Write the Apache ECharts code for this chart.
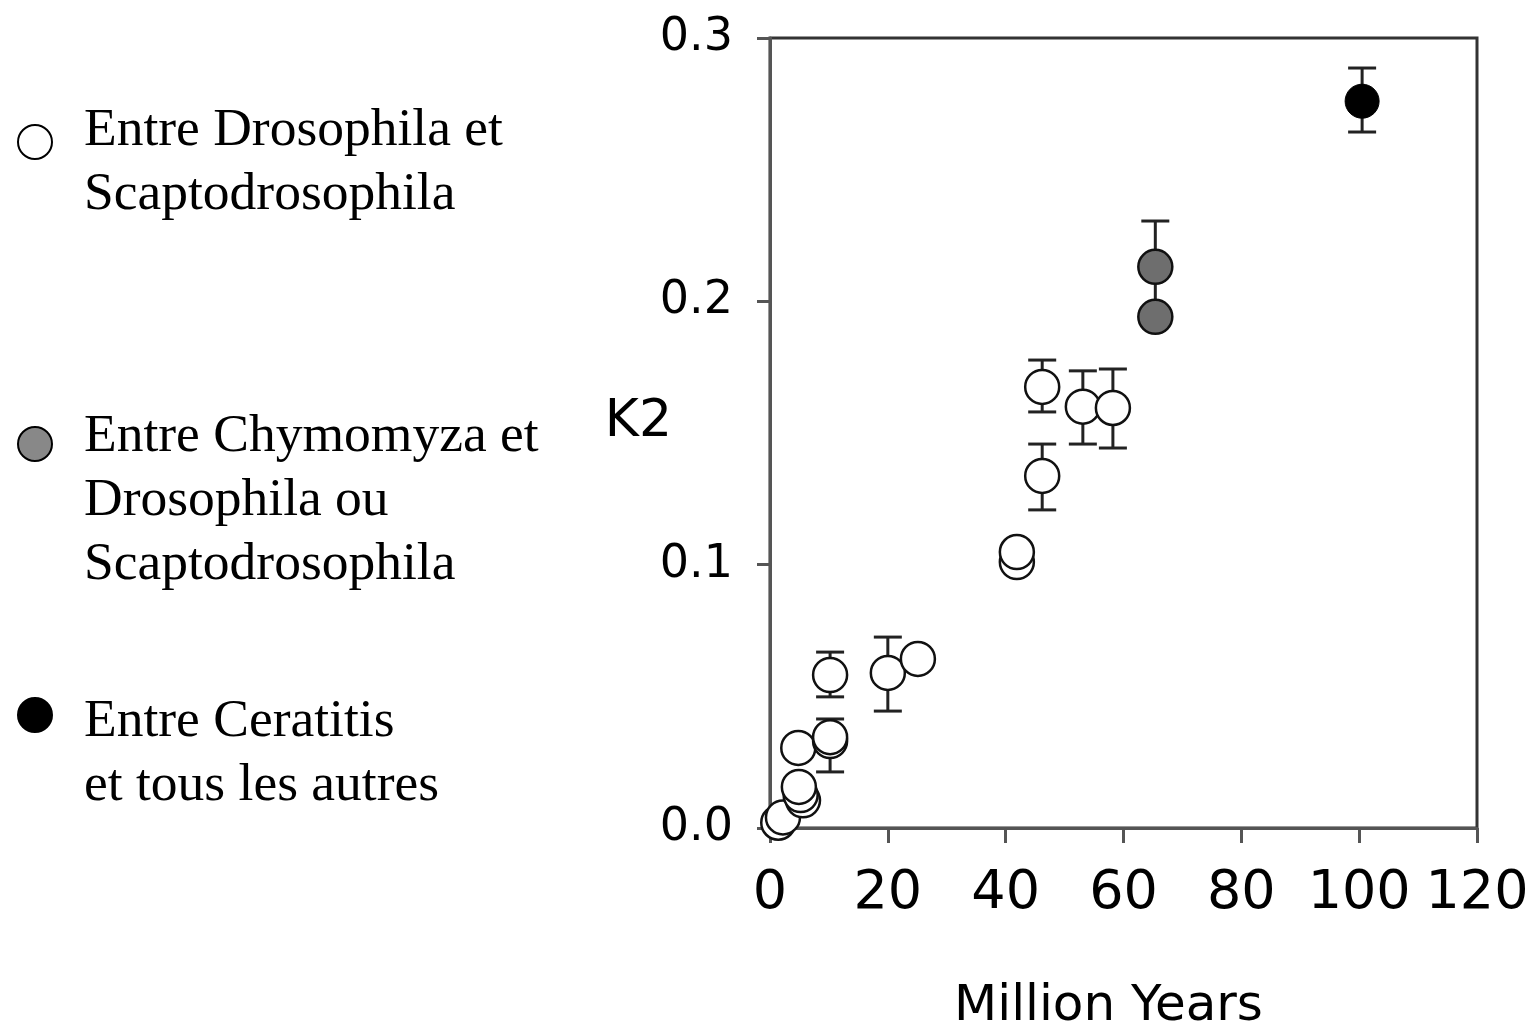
<!DOCTYPE html>
<html>
<head>
<meta charset="utf-8">
<script src="https://cdn.jsdelivr.net/npm/echarts@6/dist/echarts.min.js"></script>
<style>
html, body { margin: 0; padding: 0; background: #fff; }
#main { width: 1528px; height: 1028px; }
</style>
</head>
<body>
<div id="main"></div>
<script>
// legend labels / series names
var seriesNames = [
	'Entre Drosophila et\nScaptodrosophila',
	'Entre Chymomyza et\nDrosophila ou\nScaptodrosophila',
	'Entre Ceratitis\net tous les autres'
];

// open circles : Drosophila / Scaptodrosophila (null = no visible error bar)
var openX    = [1.4,   2.2,   5.6,    5.2,    4.9,    4.8,    10.2,   10.2,   10.2,   20.0,   25.1,   41.9,  41.9,   46.2,   46.2,   53.1,   58.2];
var openY    = [0.002, 0.004, 0.0105, 0.0125, 0.0156, 0.0304, 0.0330, 0.0345, 0.0581, 0.0589, 0.0642, 0.101, 0.1048, 0.1337, 0.1675, 0.160,  0.1595];
var openLow  = [null,  null,  null,   null,   null,   null,   0.0213, null,   0.0498, 0.0444, null,   null,  null,   0.1208, 0.158,  0.1458, 0.1443];
var openHigh = [null,  null,  null,   null,   null,   null,   0.0414, null,   0.0668, 0.0725, null,   null,  null,   0.1458, 0.1777, 0.1736, 0.1743];

// grey circles : Chymomyza vs Drosophila ou Scaptodrosophila
var greyX    = [65.4,   65.4];
var greyY    = [0.2131, 0.1941];
var greyLow  = [0.1941, null];
var greyHigh = [0.2305, null];

// black circle : Ceratitis vs tous les autres
var blackX    = [100.5];
var blackY    = [0.276];
var blackLow  = [0.2643];
var blackHigh = [0.2886];

// axis ticks
var xTicks = [0, 20, 40, 60, 80, 100, 120];
var yTicks = [0.0, 0.1, 0.2, 0.3];

function toPoints(xs, ys) {
	var out = [];
	for (var i = 0; i < xs.length; i++) out.push([xs[i], ys[i]]);
	return out;
}
function toErrors(xs, lo, hi, out) {
	for (var i = 0; i < xs.length; i++) {
		if (lo[i] != null && hi[i] != null) out.push([xs[i], lo[i], hi[i]]);
	}
	return out;
}
var errData = [];
toErrors(openX, openLow, openHigh, errData);
toErrors(greyX, greyLow, greyHigh, errData);
toErrors(blackX, blackLow, blackHigh, errData);

function renderErrorBar(params, api) {
	var x = api.value(0);
	var lo = api.coord([x, api.value(1)]);
	var hi = api.coord([x, api.value(2)]);
	var half = 14;
	var st = { stroke: '#222', lineWidth: 3 };
	return {
		type: 'group',
		children: [
			{ type: 'line', shape: { x1: hi[0], y1: hi[1], x2: lo[0], y2: lo[1] }, style: st },
			{ type: 'line', shape: { x1: hi[0] - half, y1: hi[1], x2: hi[0] + half, y2: hi[1] }, style: st },
			{ type: 'line', shape: { x1: lo[0] - half, y1: lo[1], x2: lo[0] + half, y2: lo[1] }, style: st }
		]
	};
}

// legend boxes: a blank first line pushes the first text line next to the icon
var legendTops = [74, 344, 647];
var legendSpacer = [42, 114, 78];
var legendIconColor = ['#fff', '#888', '#000'];

var dom = document.getElementById('main');
var myChart = echarts.init(dom);

var option = {
	animation: false,
	backgroundColor: '#fff',
	grid: {
		left: 770, right: 51, top: 38, bottom: 200,
		show: true, borderColor: '#333', borderWidth: 3,
		outerBoundsMode: 'none'
	},
	legend: seriesNames.map(function (n, i) {
		return {
			data: [{ name: n, itemStyle: { color: legendIconColor[i], borderColor: '#000', borderWidth: 2 } }],
			left: 17,
			top: legendTops[i],
			padding: 0,
			icon: 'circle',
			itemWidth: 34,
			itemHeight: 34,
			selectedMode: false,
			formatter: function (name) {
				return '{s| }\n' + name.split('\n').map(function (l) { return '{t|' + l + '}'; }).join('\n');
			},
			textStyle: {
				color: '#000',
				padding: [0, 0, 0, 27],
				rich: {
					s: { fontSize: 8, lineHeight: legendSpacer[i] },
					t: { fontFamily: 'Liberation Serif', fontSize: 53.5, lineHeight: 64, color: '#000' }
				}
			}
		};
	}),
	xAxis: {
		type: 'value',
		min: 0, max: 120, interval: 20,
		name: 'Million Years',
		nameLocation: 'middle',
		nameGap: 154,
		nameTextStyle: { fontFamily: 'DejaVu Sans', fontSize: 50, color: '#000', padding: [0, 30, 0, 0] },
		axisLine: { lineStyle: { color: '#555', width: 3 } },
		axisTick: { length: 15, lineStyle: { color: '#555', width: 3 } },
		axisLabel: {
			margin: 39,
			fontFamily: 'DejaVu Sans', fontSize: 54, color: '#000',
			formatter: function (v) { return xTicks.indexOf(v) >= 0 ? String(v) : ''; }
		},
		splitLine: { show: false }
	},
	yAxis: {
		type: 'value',
		min: 0, max: 0.3, interval: 0.1,
		name: '{k|K2}\n{s| }',
		nameLocation: 'middle',
		nameRotate: 0,
		nameGap: 98,
		nameMoveOverlap: false,
		nameTextStyle: {
			color: '#000',
			rich: {
				k: { fontFamily: 'DejaVu Sans', fontSize: 52, lineHeight: 60, color: '#000' },
				s: { fontSize: 8, lineHeight: 22 }
			}
		},
		axisLine: { lineStyle: { color: '#555', width: 3 } },
		axisTick: { length: 13, lineStyle: { color: '#555', width: 3 } },
		axisLabel: {
			margin: 37,
			fontFamily: 'DejaVu Sans', fontSize: 46, color: '#000',
			formatter: function (v) { return v.toFixed(1); }
		},
		splitLine: { show: false }
	},
	series: [
		{
			name: 'errors',
			type: 'custom',
			renderItem: renderErrorBar,
			data: errData,
			z: 1,
			silent: true
		},
		{
			name: seriesNames[0],
			type: 'scatter',
			symbol: 'circle',
			symbolSize: 34,
			data: toPoints(openX, openY),
			itemStyle: { color: '#fff', borderColor: '#111', borderWidth: 2.5, opacity: 1 },
			z: 3
		},
		{
			name: seriesNames[1],
			type: 'scatter',
			symbol: 'circle',
			symbolSize: 34,
			data: toPoints(greyX, greyY),
			itemStyle: { color: '#6e6e6e', borderColor: '#111', borderWidth: 2.5, opacity: 1 },
			z: 3
		},
		{
			name: seriesNames[2],
			type: 'scatter',
			symbol: 'circle',
			symbolSize: 34,
			data: toPoints(blackX, blackY),
			itemStyle: { color: '#000', borderColor: '#000', borderWidth: 1, opacity: 1 },
			z: 3
		}
	]
};

if (option && typeof option === 'object') {
	myChart.setOption(option, true);
}
</script>
</body>
</html>
